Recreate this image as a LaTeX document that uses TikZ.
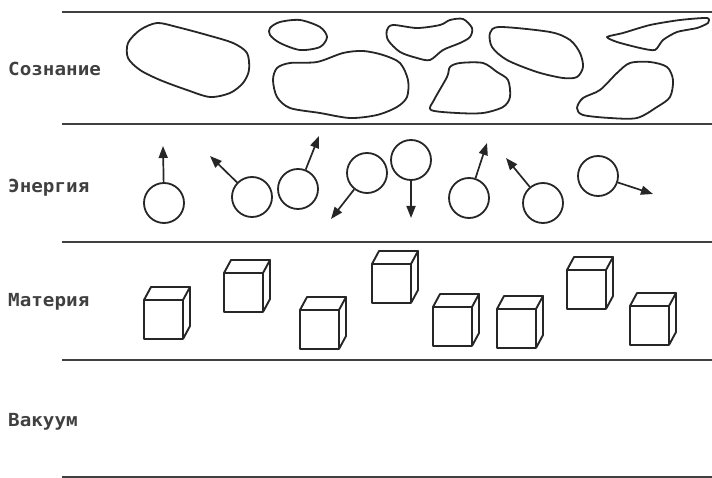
\documentclass[tikz,border=0pt]{standalone}
\usepackage{fontspec}
\newfontfamily\labelfont[FakeStretch=1.07]{DejaVu Sans Mono}
\usetikzlibrary{arrows.meta}

\begin{document}
\begin{tikzpicture}[x=1pt,y=-1pt,
    layer/.style={line width=2.4pt,black!75},
    blob/.style={line width=1.8pt,line join=round,black!85},
    particle/.style={circle,draw,line width=1.8pt,minimum size=40pt,inner sep=0pt,black!85},
    spin/.style={line width=1.7pt,black!85,-{Triangle[length=12pt,width=9pt]}},
    lbl/.style={anchor=base west,inner sep=0pt,text=black!75,font=\labelfont\bfseries\fontsize{18}{18}\selectfont},
    cube/.pic={
      \draw[line width=1.9pt,line join=round,black!85] (0,0) rectangle (39,39)
        (0,0) -- (7,-13) -- (46,-13) -- (39,0)
        (46,-13) -- (46,26) -- (39,39);
    }]
      \useasboundingbox (0,0) rectangle (712,478);
      \foreach \y in {12,124,242,360,477}
        \draw[layer] (62,\y) -- (712,\y);
      \node[lbl] (soznanie) at (8,76) {Сознание};
      \node[lbl] (energiya) at (8,193) {Энергия};
      \node[lbl] (materiya) at (8,307) {Материя};
      \node[lbl] (vakuum) at (8,426) {Вакуум};
      \draw[blob] plot[smooth cycle] coordinates {(128,43) (140,30) (157,23) (177,27) (207,35) (233,43) (247,53) (249,70) (243,83) (230,93) (210,97) (187,90) (160,80) (140,70) (128,58)};
      \draw[blob] plot[smooth cycle] coordinates {(270,28) (280,22) (300,20) (320,27) (327,37) (320,47) (300,50) (280,43) (270,35)};
      \draw[blob] plot[smooth cycle] coordinates {(277,68) (290,63) (317,62) (343,53) (363,51) (383,55) (400,63) (408,80) (407,97) (397,107) (377,115) (350,118) (320,113) (290,108) (277,97) (273,80)};
      \draw[blob] plot[smooth cycle] coordinates {(387,30) (393,25) (417,28) (440,25) (450,20) (463,19) (472,28) (470,37) (460,43) (443,50) (430,60) (417,58) (400,52) (388,40)};
      \draw[blob] plot[smooth cycle] coordinates {(431,110) (434,100) (447,77) (450,67) (460,63) (483,63) (497,72) (508,80) (510,97) (503,107) (483,113) (457,113)};
      \draw[blob] plot[smooth cycle] coordinates {(490,33) (500,27) (550,32) (570,40) (580,53) (583,67) (577,77) (563,78) (537,72) (507,60) (492,47)};
      \draw[blob] plot[smooth cycle,tension=.4] coordinates {(607,37) (623,33) (650,25) (680,20) (707,18) (708,23) (697,28) (677,32) (663,40) (655,50) (640,48) (617,42)};
      \draw[blob] plot[smooth cycle] coordinates {(577,108) (583,98) (600,90) (617,73) (630,63) (650,62) (667,67) (673,80) (670,97) (657,107) (637,118) (610,118) (583,115)};
      \node[particle] (p1) at (164,203) {};
      \node[particle] (p2) at (252,197) {};
      \node[particle] (p3) at (298,189) {};
      \node[particle] (p4) at (367,173) {};
      \node[particle] (p5) at (411,160) {};
      \node[particle] (p6) at (469,198) {};
      \node[particle] (p7) at (543,203) {};
      \node[particle] (p8) at (598,176) {};
      \coordinate (t1) at (163,146);
      \coordinate (t2) at (210,156);
      \coordinate (t3) at (319,136);
      \coordinate (t4) at (331,219);
      \coordinate (t5) at (411,218);
      \coordinate (t6) at (487,143);
      \coordinate (t7) at (506,158);
      \coordinate (t8) at (653,194);
      \foreach \i in {1,...,8}
        \draw[spin] (p\i) -- (t\i);
      \foreach \x/\y in {144/300,224/273,300/310,372/264,433/307,497/309,567/270,630/306}
        \pic at (\x,\y) {cube};
    \end{tikzpicture}
\end{document}
